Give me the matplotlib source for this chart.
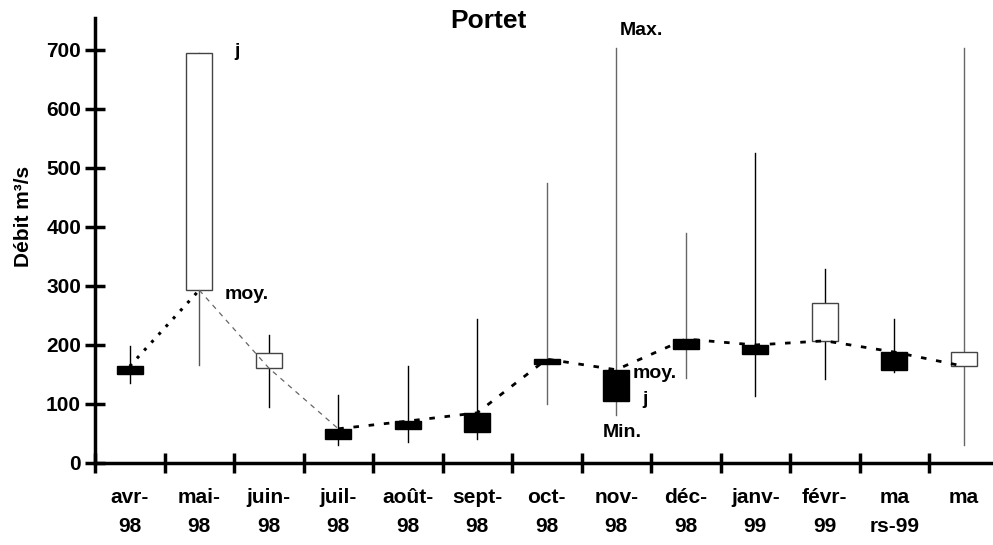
import matplotlib
matplotlib.use("Agg")
import matplotlib.pyplot as plt
import numpy as np

months = ["avr-\n98", "mai-\n98", "juin-\n98", "juil-\n98", "août-\n98", "sept-\n98",
          "oct-\n98", "nov-\n98", "déc-\n98", "janv-\n99", "févr-\n99", "ma\nrs-99", "ma"]
moy = [164, 293, 161, 58, 71, 85, 176, 158, 210, 200, 207, 188, 164]
jour = [151, 695, 186, 41, 57, 53, 168, 105, 193, 185, 271, 158, 188]
vmax = [198, 695, 217, 115, 164, 244, 475, 703, 390, 525, 329, 244, 703]
vmin = [136, 166, 95, 31, 36, 41, 100, 81, 144, 114, 142, 155, 31]
wick_colors = ["black", "#555555", "black", "black", "black", "black",
               "#666666", "#666666", "#666666", "black", "black", "black", "#666666"]

plt.rcParams['font.family'] = ['Liberation Sans', 'DejaVu Sans']
plt.rcParams['font.weight'] = 'bold'

W, H = 993, 545
fig = plt.figure(figsize=(W / 100, H / 100), dpi=100)
ax = fig.add_axes([95 / W, (H - 463) / H, 13 * 69.5 / W, (463 - 18) / H])

x = np.arange(len(months))
bw = 0.37
for i in range(len(months)):
    ax.plot([x[i], x[i]], [vmin[i], vmax[i]], color=wick_colors[i], lw=1.0, zorder=2)
    lo, hi = min(moy[i], jour[i]), max(moy[i], jour[i])
    up = jour[i] > moy[i]
    ax.bar(x[i], hi - lo, bottom=lo, width=bw,
           color="white" if up else "black", edgecolor="#444444" if up else "black",
           linewidth=1.0, zorder=3)

# mean line
ax.plot(x[:2], moy[:2], color="black", lw=2.2, ls=(0, (1, 2.5)), zorder=4)
ax.plot(x[1:4], moy[1:4], color="#666666", lw=0.9, ls=(0, (4, 4)), zorder=4)
ax.plot(x[3:], moy[3:], color="black", lw=2.0, ls=(0, (2, 3.5)), zorder=4)

ax.set_xlim(-0.5, 12.5)
ax.set_ylim(0, 754)
ax.set_yticks(range(0, 701, 100))
ax.set_xticks(x)
ax.set_xticklabels(months, fontsize=15, fontweight='bold', linespacing=1.65)
ax.set_xticks(np.arange(-0.5, 13, 1), minor=True)
ax.tick_params(axis='x', which='major', length=0, pad=18)
ax.tick_params(axis='x', which='minor', length=14, width=2.5, direction='inout')
ax.tick_params(axis='y', length=14, width=2.5, direction='inout', labelsize=15, pad=3)
for lab in ax.get_yticklabels():
    lab.set_fontweight('bold')
for s in ['top', 'right']:
    ax.spines[s].set_visible(False)
for s in ['left', 'bottom']:
    ax.spines[s].set_linewidth(2.5)

ax.set_ylabel("Débit m³/s", fontsize=15, fontweight='bold')
ax.yaxis.set_label_coords((33 - 95) / (13 * 69.5), 0.553)

fig.text(488 / W, 1 - 21 / H, "Portet", fontsize=19, fontweight='bold', ha='center', va='center')

ann = dict(fontsize=14, fontweight='bold', va='center', ha='left')
ax.text(x[1] + 0.5, 697, "j", **ann)
ax.text(x[1] + 0.37, 285, "moy.", **ann)
ax.text(x[7] + 0.05, 732, "Max.", **ann)
ax.text(x[7] + 0.24, 151, "moy.", **ann)
ax.text(x[7] + 0.38, 108, "j", **ann)
ax.text(x[7] - 0.2, 51, "Min.", **ann)

fig.savefig("out.png", dpi=100)
